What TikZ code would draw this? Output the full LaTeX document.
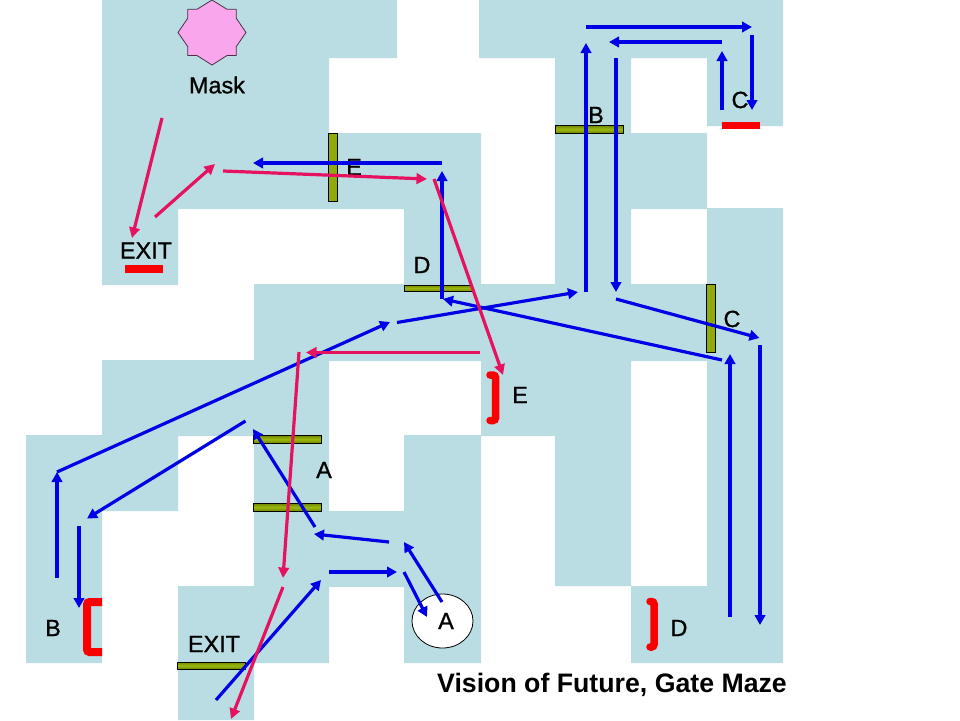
\documentclass[tikz,border=0pt]{standalone}
\usepackage{fontspec}
\setmainfont{Liberation Sans}
\newfontfamily\labfont[FakeBold=0.9]{Liberation Sans}
\usetikzlibrary{arrows.meta,shapes.geometric}
\definecolor{mazefill}{HTML}{B9DDE2}
\definecolor{blueline}{HTML}{0000E6}
\definecolor{pinkline}{HTML}{E6125F}
\definecolor{gatedark}{HTML}{6E8A00}
\definecolor{gatelight}{HTML}{9DB80F}
\definecolor{stoppink}{HTML}{F9A6EC}
\definecolor{stopred}{HTML}{FA0000}
\tikzset{
  x=1pt,y=-1pt,
  blueray/.style={draw=blueline,line width=3.2pt,-{Triangle[length=10pt,width=10.5pt]}},
  pinkray/.style={draw=pinkline,line width=3.2pt,-{Triangle[length=10.5pt,width=10.5pt]}},
  hgate/.style={draw=black,line width=0.9pt,top color=gatedark,bottom color=gatedark,middle color=gatelight},
  vgate/.style={draw=black,line width=0.9pt,fill=gatelight!70!gatedark},
  redbar/.style={fill=stopred},
  redbracket/.style={draw=stopred,line width=7.5pt,rounded corners=2.5pt,line cap=round},
  lab/.style={font=\labfont\fontsize{23.4pt}{24pt}\selectfont,text=black,inner sep=0pt},
}
\begin{document}
\begin{tikzpicture}
\useasboundingbox (0,0) rectangle (960,720);
\fill[white] (0,0) rectangle (960,720);
% maze floor
\fill[mazefill]
  (102,0) rectangle (397,58)
  (479,0) rectangle (783,58)
  (102,58) rectangle (329,133)
  (555,58) rectangle (631,285)
  (707,58) rectangle (783,126)
  (102,133) rectangle (481,209)
  (631,133) rectangle (707,209)
  (102,209) rectangle (178,285)
  (404,209) rectangle (481,285)
  (707,208) rectangle (783,663)
  (254,284) rectangle (783,361)
  (102,360) rectangle (329,436)
  (481,360) rectangle (631,436)
  (26,435) rectangle (178,511)
  (254,436) rectangle (329,663)
  (404,435) rectangle (481,663)
  (555,436) rectangle (631,586)
  (26,511) rectangle (102,663)
  (329,511) rectangle (404,587)
  (178,586) rectangle (254,720)
  (631,586) rectangle (707,663)
  ;
% gates
\draw[vgate] (328,133) rectangle (337,201);
\draw[hgate] (404,285) rectangle (472,291.5);
\draw[hgate] (555,125.5) rectangle (623,133);
\draw[vgate] (706,284.5) rectangle (715,352);
\draw[hgate] (253.5,435.5) rectangle (321.5,443);
\draw[hgate] (253.5,503.5) rectangle (321.5,511);
\draw[hgate] (177.5,662) rectangle (245.5,669);
% red stops
\fill[redbar] (125,265) rectangle (162.5,273);
\fill[redbar] (722,121.5) rectangle (760,129);
\draw[redbracket] (490,375) -- (495.5,375) -- (495.5,420.5) -- (490,420.5);
\draw[redbracket] (650,601.5) -- (654,601.5) -- (654,647) -- (650,647);
\draw[redbracket,line width=8pt,line cap=butt] (102,602) -- (87,602) -- (87,652) -- (102,652);
% mask and start
\begin{scope}[shift={(212,32.5)}]
\coordinate (mask) at (0,0);
\draw[fill=stoppink,draw=black!70!stoppink,line width=0.8pt,line join=miter]
  (0,-32.5) -- (15,-23.2) -- (24.3,-23.2) -- (24.3,-14.2) -- (34,0) -- (24.3,14) -- (24.3,23) -- (15,23)
  -- (0,32.5) -- (-15,23) -- (-24.3,23) -- (-24.3,14) -- (-34,0) -- (-24.3,-14.2) -- (-24.3,-23.2) -- (-15,-23.2) -- cycle;
\end{scope}
\node[ellipse,draw=black,fill=white,line width=0.8pt,minimum width=61pt,minimum height=54pt,inner sep=0pt] (startA) at (442.5,621) {};
% labels
\node[lab] (lMask) at (217,85) {Mask};
\node[lab] (lExit1) at (146,250.5) {EXIT};
\node[lab] (lE1) at (354,167) {E};
\node[lab] (lD1) at (422,265) {D};
\node[lab] (lB1) at (596,115) {B};
\node[lab] (lC1) at (740,100) {C};
\node[lab] (lC2) at (732,319) {C};
\node[lab] (lE2) at (520,395) {E};
\node[lab] (lD2) at (679,628) {D};
\node[lab] (lA1) at (324,470) {A};
\node[lab] (lB2) at (53,628) {B};
\node[lab] (lExit2) at (214,644) {EXIT};
\node[lab] (lA2) at (446,621) {A};
\node[font=\fontsize{26.7pt}{27pt}\selectfont\bfseries,inner sep=0pt,anchor=base] (title) at (612,692) {Vision of Future, Gate Maze};
% blue route
\draw[blueray] (315,527) -- (253,429);
\draw[blueray] (389,542) -- (314,534);
\draw[blueray] (442,602) -- (404,542);
\draw[blueray] (404,572) -- (427,617);
\draw[blueray] (329,572) -- (397,572);
\draw[blueray] (216,700) -- (321,580);
\draw[blueray] (245.5,421) -- (87,518.5);
\draw[blueray] (79,526) -- (79,608);
\draw[blueray] (57,578) -- (57,472);
\draw[blueray] (57,472) -- (390,322);
\draw[blueray] (397,322.5) -- (578,292);
\draw[blueray] (586,292) -- (586,43);
\draw[blueray] (586,27) -- (752,27);
\draw[blueray] (752,35) -- (752,110);
\draw[blueray] (722,110) -- (722,51);
\draw[blueray] (722,42) -- (609,42);
\draw[blueray] (616,58) -- (616,292);
\draw[blueray] (616,299) -- (759.5,338);
\draw[blueray] (760,345) -- (760,625);
\draw[blueray] (730,617) -- (730,354);
\draw[blueray] (722,360) -- (443,299);
\draw[blueray] (442,299) -- (442,171);
\draw[blueray] (442,163) -- (253,163);
% pink route
\draw[pinkray] (162,118) -- (132,238);
\draw[pinkray] (155,217) -- (215,164);
\draw[pinkray] (223,171) -- (427,179);
\draw[pinkray] (434,179) -- (503,375);
\draw[pinkray] (480,352.5) -- (306,352.5);
\draw[pinkray] (299,352) -- (283,578);
\draw[pinkray] (283,587) -- (231,719);
\end{tikzpicture}
\end{document}
